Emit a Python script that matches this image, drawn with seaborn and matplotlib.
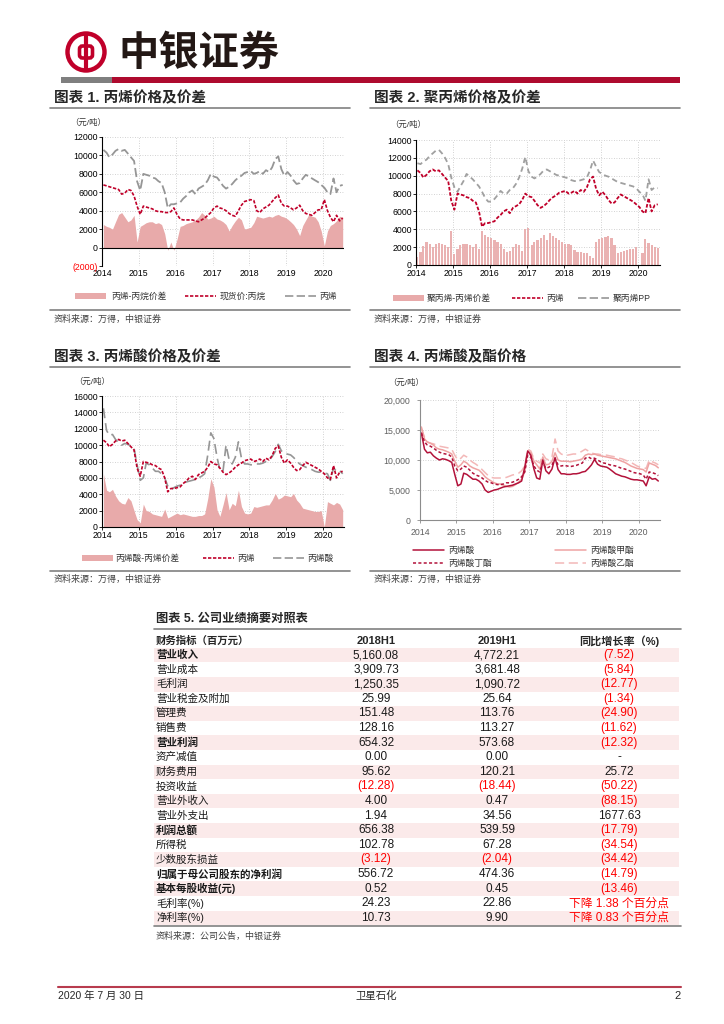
import numpy as np
import pandas as pd
import matplotlib
matplotlib.use('Agg')
import matplotlib.pyplot as plt
import matplotlib.dates as mdates
from matplotlib.patches import Rectangle, Circle, FancyBboxPatch
import seaborn as sns

# Monthly values (Jan 2014 .. Jul 2020)
MONTHS = pd.date_range('2014-01-01', '2020-07-01', freq='MS') + pd.Timedelta(days=14)

PROPYLENE = [10600, 10300, 9800, 10100, 10500, 10700, 10500, 10600, 10200, 9800, 9400, 7200,
             6200, 8000, 7900, 7800, 7600, 7500, 7200, 7000, 6000, 4300, 4700, 4700,
             4800, 4900, 5300, 5600, 6000, 6200, 5800, 6400, 6600, 6800, 7300, 8000,
             7700, 7600, 7200, 6700, 6400, 6600, 6900, 7300, 7600, 7800, 8100, 8200,
             8300, 8000, 8100, 8300, 8000, 8400, 8200, 8700, 9600, 9900, 8500, 7800,
             8200, 7800, 7300, 6900, 7000, 7500, 7900, 7700, 7500, 7300, 7100, 6800,
             6500, 6000, 5800, 7500, 6000, 6700, 6800]
PROPANE = [6800, 6700, 6600, 6500, 6400, 6300, 5800, 5900, 6300, 6200, 5600, 4500,
           3600, 4500, 4400, 4300, 4200, 4000, 3900, 3900, 3800, 3800, 3900, 4300,
           3600, 3100, 3000, 3000, 3000, 3000, 2900, 2800, 3000, 3200, 3500, 3800,
           4300, 4500, 4300, 4200, 4000, 3700, 3500, 3400, 4000, 4600, 5000, 5100,
           5200, 5100, 4000, 3800, 4200, 4400, 4600, 5000, 5400, 5700, 4800, 4500,
           4500, 4300, 4100, 4300, 4600, 4000, 3700, 3600, 3500, 3800, 4100, 4100,
           5200, 4000, 3300, 2800, 3500, 2900, 3200]
SPREAD_C3_C3H8 = [2500, 2300, 2200, 2000, 2800, 3600, 3800, 3300, 2800, 3000, 3500, 600,
                  2300, 2500, 2700, 2800, 2800, 2600, 2700, 2500, 1500, -300, 600, -300,
                  900, 2300, 2400, 2600, 2700, 2800, 3000, 3300, 3800, 3500, 3100, 3200,
                  3400, 3100, 3000, 2800, 2500, 1800, 2400, 2900, 3300, 3000, 2000, 2100,
                  2200, 2700, 3400, 3300, 3200, 3300, 3400, 3300, 3500, 3600, 3400, 3300,
                  3100, 2800, 2500, 2000, 1300, 2400, 3000, 3600, 3400, 3300, 2800, 1800,
                  200, 1800, 2400, 2600, 2900, 3400, 3300]
PP = [11400, 11300, 11600, 11800, 12200, 12500, 12800, 12900, 12500, 12000, 11300, 9800,
      8700, 8200, 8800, 9400, 10200, 9900, 9600, 9200, 8800, 8200, 7500, 7100,
      7100, 7400, 7800, 8300, 8000, 8000, 8400, 8600, 9100, 9800, 10800, 12100,
      10500, 9900, 9700, 9900, 10200, 10600, 10700, 10500, 10300, 10100, 10000, 9900,
      9800, 9700, 9500, 9400, 9400, 9500, 9600, 9800, 10600, 11700, 11000, 10400,
      10200, 10000, 9900, 9700, 9500, 9300, 9200, 9100, 9000, 8900, 8800, 8600,
      8200, 7900, 7200, 9600, 8400, 8700, 8600]
SPREAD_PP_C3 = [900, 1500, 2100, 2600, 2400, 2000, 2300, 2500, 2400, 2200, 2000, 3800,
                1200, 1800, 2200, 2400, 2300, 2200, 2000, 2400, 1800, 3800, 3400, 3100,
                3000, 2800, 2600, 2300, 1800, 1500, 1600, 2000, 2400, 2200, 1600, 4000,
                4100, 2200, 2600, 2800, 3000, 3400, 2800, 3600, 3200, 3000, 2800, 2600,
                2400, 2300, 2200, 1700, 1500, 1500, 1400, 1300, 1000, 800, 2600, 2900,
                3000, 3100, 3300, 3000, 2200, 1400, 1500, 1600, 1700, 1800, 1800, 2000,
                0, 1400, 2900, 2500, 2200, 2000, 1900]
ACRYLIC = [14500, 11800, 11200, 11300, 10700, 10300, 10000, 10200, 10100, 9900, 9600, 7600,
           5700, 6000, 7800, 7600, 7200, 6800, 6800, 6500, 6000, 5000, 4600, 4800,
           5000, 5100, 5300, 5500, 5600, 5700, 5800, 6000, 6200, 6500, 8800, 11500,
           10800, 8500, 7000, 6800, 10000, 8200, 7700, 8500, 10400, 8400, 7700, 7700,
           7600, 7600, 7700, 7700, 7800, 8000, 8100, 8600, 9200, 10100, 9300, 9000,
           8900, 8800, 8500, 8100, 7700, 7500, 7300, 7200, 7000, 6800, 6700, 6700,
           6600, 6500, 5700, 7200, 6800, 6900, 6500]
SPREAD_AA_C3 = [6500, 4500, 4300, 4600, 3800, 3200, 2900, 2800, 3600, 3200, 2000, 900,
                500, 2800, 2000, 1900, 1600, 1500, 1400, 1300, 2200, 1100, 1300, 1500,
                1700, 1500, 1600, 1500, 1400, 1300, 1300, 1400, 1400, 1600, 3500, 5900,
                4900, 2100, 1300, 2700, 4200, 2100, 2900, 2600, 4500, 2500, 1700, 1600,
                1700, 2500, 2400, 2500, 2600, 2700, 2700, 3300, 4100, 3400, 3600, 3900,
                3800, 3700, 4100, 3300, 2900, 2300, 2200, 2100, 2000, 1900, 1900, 2000,
                0, 3100, 2900, 2700, 3000, 2800, 2100]
METHYL = [15500, 13500, 13000, 12800, 12500, 12000, 11800, 11700, 11500, 11300, 11000, 9800,
          8800, 9200, 9800, 9500, 9000, 8700, 8500, 8300, 7800, 7200, 6800, 6500,
          6200, 6000, 6000, 5800, 5600, 5500, 5600, 5900, 6300, 6800, 8000, 11500,
          11200, 9800, 9200, 8500, 10500, 9200, 9300, 9800, 11200, 10000, 9800, 9800,
          9800, 9700, 9800, 9900, 10000, 10200, 10800, 11000, 10900, 11000, 10800, 10700,
          10600, 10500, 10400, 10300, 10200, 10000, 9800, 9600, 9300, 9000, 8800, 8600,
          8500, 8400, 8000, 9500, 9300, 9100, 8700]
BUTYL = [14500, 13000, 12500, 12300, 12000, 11600, 11300, 11100, 11000, 10900, 10500, 9000,
         8200, 8500, 9000, 8800, 8300, 7800, 7500, 7300, 7000, 6600, 6300, 6200,
         6000, 5900, 5900, 6000, 6200, 6200, 6300, 6500, 6800, 7200, 8000, 10800,
         10500, 9000, 8300, 8000, 9600, 8600, 8800, 9200, 10200, 9200, 9000, 9100,
         9000, 8900, 9000, 9100, 9300, 9500, 10300, 10500, 10200, 10300, 10000, 9700,
         9500, 9400, 9200, 9100, 9000, 8800, 8600, 8500, 8300, 8100, 7900, 7800,
         7700, 7500, 6800, 8000, 7900, 7700, 7400]
ETHYL = [15200, 13800, 13000, 12800, 12700, 12500, 12300, 12200, 12100, 12000, 11800, 10800,
         10000, 10300, 10800, 10500, 10000, 9600, 9300, 8900, 8400, 7900, 7400, 7100,
         7000, 7000, 7000, 7000, 7100, 7300, 7500, 7600, 7800, 8200, 9000, 11800,
         11500, 10200, 9800, 9500, 11000, 10200, 10000, 10500, 13500, 11500, 11000, 10800,
         10800, 10900, 11000, 11000, 11200, 11500, 11800, 11500, 11200, 11000, 11000, 10900,
         10900, 10800, 10700, 10600, 10500, 10300, 10200, 10000, 9800, 9600, 9300, 9000,
         8800, 8700, 8600, 10000, 9700, 9500, 9200]

# Table 5
TABLE_ITEMS = ['营业收入', '营业成本', '毛利润', '营业税金及附加', '管理费', '销售费', '营业利润',
               '资产减值', '财务费用', '投资收益', '营业外收入', '营业外支出', '利润总额', '所得税',
               '少数股东损益', '归属于母公司股东的净利润', '基本每股收益(元)', '毛利率(%)', '净利率(%)']
BOLD_ITEMS = ['营业收入', '营业利润', '利润总额', '归属于母公司股东的净利润', '基本每股收益(元)']
H1_2018 = ['5,160.08', '3,909.73', '1,250.35', '25.99', '151.48', '128.16', '654.32', '0.00', '95.62',
           '(12.28)', '4.00', '1.94', '656.38', '102.78', '(3.12)', '556.72', '0.52', '24.23', '10.73']
H1_2019 = ['4,772.21', '3,681.48', '1,090.72', '25.64', '113.76', '113.27', '573.68', '0.00', '120.21',
           '(18.44)', '0.47', '34.56', '539.59', '67.28', '(2.04)', '474.36', '0.45', '22.86', '9.90']
YOY = ['(7.52)', '(5.84)', '(12.77)', '(1.34)', '(24.90)', '(11.62)', '(12.32)', '-', '25.72',
       '(50.22)', '(88.15)', '1677.63', '(17.79)', '(34.54)', '(34.42)', '(14.79)', '(13.46)',
       '下降 1.38 个百分点', '下降 0.83 个百分点']
TABLE_HEADER = ['财务指标（百万元）', '2018H1', '2019H1', '同比增长率（%)']

# Style
RED = '#C0002A'
DARK_RED = '#B3123A'
GRAY = '#969696'
PINK = '#E8AAAA'
LIGHT_PINK = '#EFA3A3'
ETHYL_PINK = '#F3B8B8'
TXT_RED = '#FF0000'
LINE_GRAY = '#808080'
W, H = 724, 1024

sns.set_theme(style='ticks')
plt.rcParams['font.family'] = ['Liberation Sans', 'Noto Sans CJK SC']
plt.rcParams['axes.unicode_minus'] = False
NUM_FONT = ['Liberation Sans Narrow', 'Liberation Sans', 'Noto Sans CJK SC']

df = pd.DataFrame({'date': MONTHS, 'propylene': PROPYLENE, 'propane': PROPANE,
                   'spread1': SPREAD_C3_C3H8, 'pp': PP, 'spread2': SPREAD_PP_C3,
                   'acrylic': ACRYLIC, 'spread3': SPREAD_AA_C3, 'methyl': METHYL,
                   'butyl': BUTYL, 'ethyl': ETHYL})

fig = plt.figure(figsize=(W / 100, H / 100), dpi=100)
page = fig.add_axes([0, 0, 1, 1])
page.set_xlim(0, W)
page.set_ylim(H, 0)
page.axis('off')


def box(l, t, r, b):
    return [l / W, 1 - b / H, (r - l) / W, (b - t) / H]


# ---- header ----
page.plot([86, 86], [34, 70], color=RED, lw=3.0, solid_capstyle='butt')
page.add_patch(Circle((86, 52), 18.5, fill=False, ec=RED, lw=3.2))
page.add_patch(FancyBboxPatch((79.5, 46), 13, 12, boxstyle='round,pad=0,rounding_size=3',
                              fc='white', ec=RED, lw=2.6))
page.text(118, 53, '中银证券', fontsize=29, fontweight='bold', color='#231815', va='center',
          family=['Noto Sans CJK SC'])
page.add_patch(Rectangle((61, 77), 51, 6, color='#7F7F7F', lw=0))
page.add_patch(Rectangle((112, 77), 568, 6, color='#AE0A2E', lw=0))

# ---- chart frames: titles, rules, sources ----
for x0, x1, y_title, y_rule, y_sep, title in [
        (50, 350, 98, 107.5, 310, '图表 1. 丙烯价格及价差'),
        (370, 680, 98, 107.5, 310, '图表 2. 聚丙烯价格及价差'),
        (50, 350, 357, 367, 570.5, '图表 3. 丙烯酸价格及价差'),
        (370, 680, 357, 367, 570.5, '图表 4. 丙烯酸及酯价格')]:
    page.text(x0 + 4, y_title, title, fontsize=10.5, fontweight='bold', va='center')
    page.plot([x0, x1], [y_rule, y_rule], color=LINE_GRAY, lw=1.2)
    page.plot([x0, x1], [y_sep, y_sep], color=LINE_GRAY, lw=1.2)
    page.text(x0 + 4, y_sep + 9, '资料来源：万得，中银证券', fontsize=6.5, color='#404040', va='center')

for x, y in [(70, 123), (390, 125), (74, 382), (388, 383)]:
    page.text(x, y, '（元/吨）', fontsize=6, va='center', color='#333333')


def legend_key(kind, x0, y, color, ls='-', lw=1.2, text='', tx=None):
    if kind == 'patch':
        page.add_patch(Rectangle((x0, y - 3.3), 31, 6.6, color=color, lw=0))
    else:
        page.plot([x0, x0 + 31], [y, y], color=color, ls=ls, lw=lw)
    page.text(tx if tx else x0 + 35, y, text, fontsize=6.3, va='center', color='#333333')


DOT = (0, (2, 1))
DASH = (0, (5, 2))
legend_key('patch', 75, 296, PINK, text='丙烯-丙烷价差', tx=111)
legend_key('line', 185, 296, RED, DOT, 1.2, '现货价:丙烷', tx=220)
legend_key('line', 285, 296, GRAY, DASH, 1.2, '丙烯', tx=319)
legend_key('patch', 393, 298, PINK, text='聚丙烯-丙烯价差', tx=427)
legend_key('line', 512, 298, RED, DOT, 1.2, '丙烯', tx=546)
legend_key('line', 578, 298, GRAY, DASH, 1.2, '聚丙烯PP', tx=613)
legend_key('patch', 82, 558, PINK, text='丙烯酸-丙烯价差', tx=115)
legend_key('line', 203, 558, RED, DOT, 1.2, '丙烯', tx=237)
legend_key('line', 273, 558, GRAY, DASH, 1.2, '丙烯酸', tx=307)
legend_key('line', 413, 550, DARK_RED, '-', 1.1, '丙烯酸', tx=448)
legend_key('line', 555, 550, LIGHT_PINK, '-', 1.1, '丙烯酸甲酯', tx=590)
legend_key('line', 413, 563, DARK_RED, (0, (2, 1.5)), 1.1, '丙烯酸丁酯', tx=448)
legend_key('line', 555, 563, ETHYL_PINK, (0, (6, 3)), 1.1, '丙烯酸乙酯', tx=590)

# ---- charts ----
XLIM = (pd.Timestamp('2014-01-01'), pd.Timestamp('2020-08-01'))


def style_axis(ax, ylim, yticks, ylabels, tick_color='black', spine_color='black', ypad=1.0):
    ax.set_xlim(XLIM)
    ax.set_ylim(ylim)
    ax.set_yticks(yticks, ylabels)
    ax.xaxis.set_major_locator(mdates.YearLocator())
    ax.xaxis.set_major_formatter(mdates.DateFormatter('%Y'))
    ax.grid(True, linestyle=(0, (1, 2)), color='#C4C4C4', lw=0.6)
    ax.set_axisbelow(True)
    ax.set_xlabel('')
    ax.set_ylabel('')
    sns.despine(ax=ax)
    for s in ['left', 'bottom']:
        ax.spines[s].set_color(spine_color)
        ax.spines[s].set_linewidth(0.8)
    ax.tick_params(axis='y', labelsize=6.3, length=2, width=0.6, pad=ypad, colors=spine_color,
                   labelcolor=tick_color)
    ax.tick_params(axis='x', labelsize=6.3, length=2, width=0.6, pad=1.0, colors=spine_color,
                   labelcolor=tick_color)
    ax.patch.set_alpha(0)


# Chart 1
ax1 = fig.add_axes(box(102, 137, 344.4, 266))
ax1.fill_between(df['date'], 0, df['spread1'], color=PINK, lw=0)
sns.lineplot(data=df, x='date', y='propane', ax=ax1, color=RED, lw=1.2, linestyle=DOT, errorbar=None)
sns.lineplot(data=df, x='date', y='propylene', ax=ax1, color=GRAY, lw=1.3, linestyle=DASH, errorbar=None)
yt1 = list(range(-2000, 12001, 2000))
style_axis(ax1, (-2000, 12000), yt1, [f'({-v})' if v < 0 else str(v) for v in yt1])
ax1.get_yticklabels()[0].set_color(TXT_RED)
ax1.spines['bottom'].set_visible(False)
ax1.axhline(0, color='black', lw=0.8)
ax1.tick_params(axis='x', length=0, pad=2)

# Chart 2
ax2 = fig.add_axes(box(416, 140, 659.5, 265))
ax2.bar(df['date'], df['spread2'], width=21, color=PINK, alpha=0.9, lw=0)
sns.lineplot(data=df, x='date', y='pp', ax=ax2, color='#A0A0A0', lw=1.3, linestyle=(0, (3, 2)), errorbar=None)
sns.lineplot(data=df, x='date', y='propylene', ax=ax2, color=RED, lw=1.3, linestyle=DOT, errorbar=None)
yt2 = list(range(0, 14001, 2000))
style_axis(ax2, (0, 14000), yt2, [str(v) for v in yt2])

# Chart 3
ax3 = fig.add_axes(box(102, 396, 344.4, 527))
ax3.fill_between(df['date'], 0, df['spread3'], color=PINK, lw=0)
sns.lineplot(data=df, x='date', y='acrylic', ax=ax3, color=GRAY, lw=1.2, linestyle=(0, (6, 3)), errorbar=None)
sns.lineplot(data=df, x='date', y='propylene', ax=ax3, color=RED, lw=1.2, linestyle=DOT, errorbar=None)
yt3 = list(range(0, 16001, 2000))
style_axis(ax3, (0, 16000), yt3, [str(v) for v in yt3])

# Chart 4
ax4 = fig.add_axes(box(420, 400, 660, 520))
sns.lineplot(data=df, x='date', y='ethyl', ax=ax4, color=ETHYL_PINK, lw=1.1, linestyle=(0, (6, 3)), errorbar=None)
sns.lineplot(data=df, x='date', y='methyl', ax=ax4, color=LIGHT_PINK, lw=1.1, errorbar=None)
sns.lineplot(data=df, x='date', y='butyl', ax=ax4, color=DARK_RED, lw=1.1, linestyle=(0, (2, 1.5)), errorbar=None)
sns.lineplot(data=df, x='date', y='acrylic', ax=ax4, color=DARK_RED, lw=1.1, errorbar=None)
yt4 = list(range(0, 20001, 5000))
style_axis(ax4, (0, 20000), yt4, [f'{v:,}' for v in yt4], tick_color='#606060',
           spine_color='#8C8C8C', ypad=5)
ax4.tick_params(axis='x', pad=4)

# ---- table 5 ----
page.text(156, 619, '图表 5. 公司业绩摘要对照表', fontsize=8.8, fontweight='bold', va='center')
page.plot([154, 681], [629, 629], color=LINE_GRAY, lw=1.2)
COL_X = [376, 497, 619]
page.text(156, 641, TABLE_HEADER[0], fontsize=7.5, fontweight='bold', va='center')
for x, label in zip(COL_X, TABLE_HEADER[1:]):
    page.text(x, 641, label, fontsize=8, fontweight='bold', va='center', ha='center',
              family=NUM_FONT if 'H1' in label else None)
ROW0, ROW_H = 655, 14.6
for i, item in enumerate(TABLE_ITEMS):
    y = ROW0 + i * ROW_H
    if i % 2 == 0:
        page.add_patch(Rectangle((154, y - ROW_H / 2), 525, ROW_H, color='#FBEAEA', lw=0))
    page.text(156, y, item, fontsize=7.6, va='center',
              fontweight='bold' if item in BOLD_ITEMS else 'normal', color='#1A1A1A')
    for x, val in zip(COL_X, [H1_2018[i], H1_2019[i], YOY[i]]):
        red = val.startswith('(') or val.startswith('下降')
        page.text(x, y, val, fontsize=8.5, va='center', ha='center',
                  color=TXT_RED if red else '#1A1A1A', family=NUM_FONT)
page.plot([154, 681], [926, 926], color=LINE_GRAY, lw=1.2)
page.text(156, 936, '资料来源：公司公告，中银证券', fontsize=6.5, color='#404040', va='center')

# ---- footer ----
page.plot([58, 681], [987, 987], color='#B83B4E', lw=1.5)
page.text(58, 996, '2020 年 7 月 30 日', fontsize=7.5, va='center', family=NUM_FONT)
page.text(376, 996, '卫星石化', fontsize=7.5, va='center', ha='center')
page.text(681, 996, '2', fontsize=8, va='center', ha='right', family=NUM_FONT)

fig.savefig('out.png', dpi=100)
plt.close(fig)
